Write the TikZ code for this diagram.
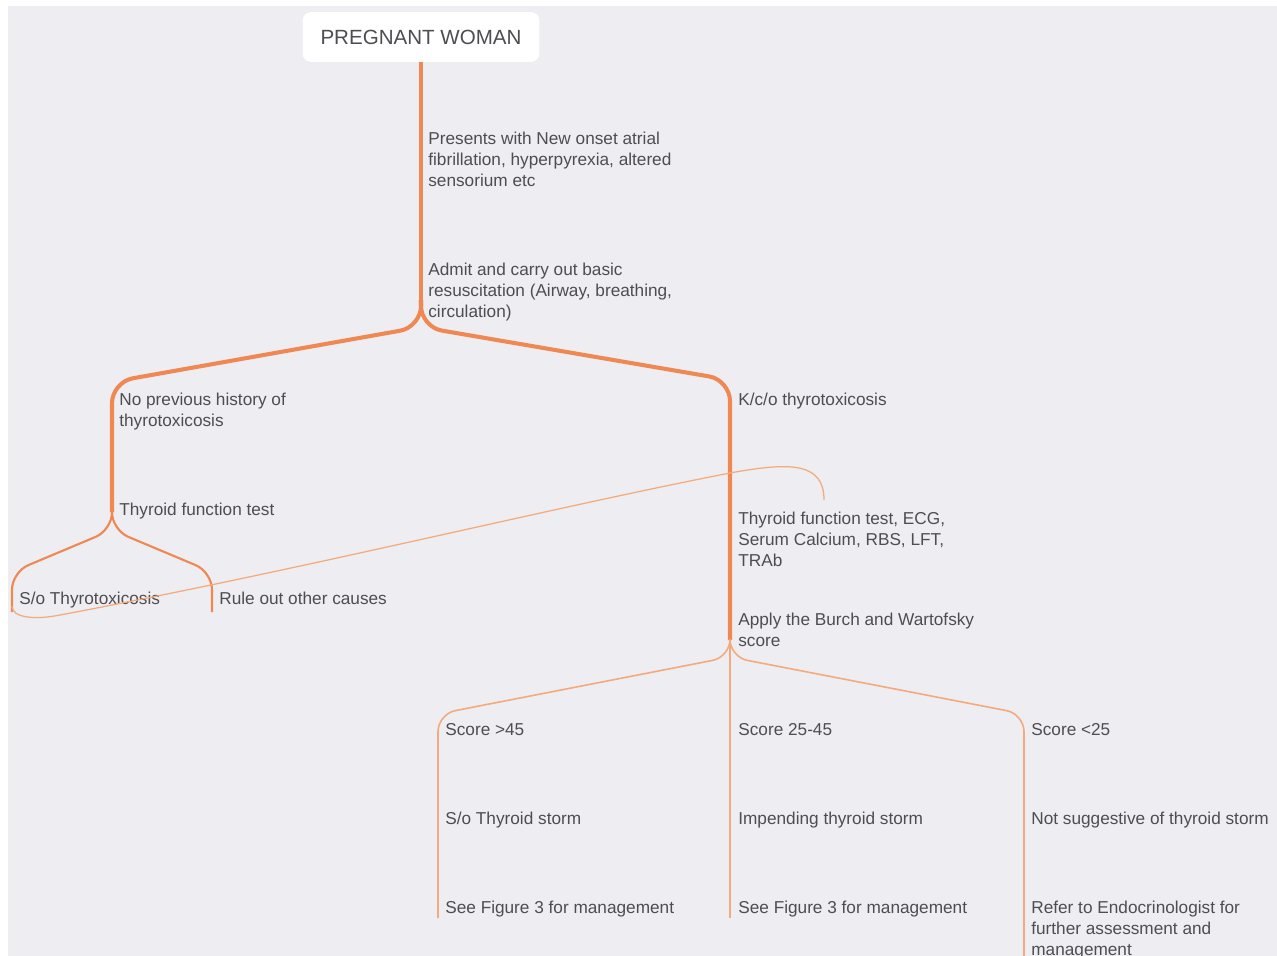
\documentclass[tikz,border=0pt]{standalone}
\usepackage{fontspec}
\setmainfont{Liberation Sans}
\usepackage{xcolor}
\definecolor{bggray}{RGB}{237,237,242}
\definecolor{txtgray}{RGB}{78,78,82}
\definecolor{mapline}{RGB}{239,136,82}
\definecolor{mapthin}{RGB}{244,170,122}

\tikzset{
  lbl/.style={anchor=north west, inner sep=0pt, align=left, text=txtgray,
    font=\fontsize{9.8}{11.9}\selectfont},
  rootbox/.style={fill=white, rounded corners=5pt, minimum width=4.74cm,
    minimum height=1cm, text=txtgray, font=\fontsize{11.7}{14}\selectfont},
  trunk/.style={mapline, line width=2.3pt, rounded corners=12pt},
  twig/.style={mapline, line width=1.2pt, rounded corners=10pt},
  thin/.style={mapthin, line width=0.9pt, rounded corners=10pt},
  relline/.style={mapthin, line width=0.7pt}
}

\begin{document}
\begin{tikzpicture}[x=0.02cm,y=-0.02cm]
                 \useasboundingbox (0,0) rectangle (1277,956);
                 \fill[white] (0,0) rectangle (1277,956);
                 \fill[bggray] (8,6) rectangle (1277,956);

                 % Root
                 \node[rootbox] (root) at (421,37) {PREGNANT WOMAN};
                 \node[lbl] (pres) at (428,132) {Presents with New onset atrial\\fibrillation, hyperpyrexia, altered\\sensorium etc};
                 \node[lbl] (admit) at (428,263) {Admit and carry out basic\\resuscitation (Airway, breathing,\\circulation)};

                 \coordinate (fk) at (421,300);
                 \coordinate (lfork) at (112,512);
                 \coordinate (rfork) at (730,640);
                 \draw[trunk] (root.south) -- (fk);
                 \draw[trunk] (fk) -- (421,327) -- (112,382) -- (lfork);
                 \draw[trunk] (fk) -- (421,327) -- (730,380) -- (rfork);

                 % Left side
                 \node[lbl] (noprev) at (119,393) {No previous history of\\thyrotoxicosis};
                 \node[lbl] (tft1) at (119,503) {Thyroid function test};
                 \node[lbl] (sotox) at (19,592) {S/o Thyrotoxicosis};
                 \node[lbl] (ruleout) at (219,592) {Rule out other causes};

                 \coordinate (soend) at (12,612);
                 \coordinate (roend) at (212,612);
                 \draw[twig] (lfork) -- (112,530) -- (12,572) -- (soend);
                 \draw[twig] (lfork) -- (112,530) -- (212,572) -- (roend);

                 % Right side
                 \node[lbl] (kco) at (738,393) {K/c/o thyrotoxicosis};
                 \node[lbl] (tft2) at (738,512) {Thyroid function test, ECG,\\Serum Calcium, RBS, LFT,\\TRAb};
                 \node[lbl] (apply) at (738,613) {Apply the Burch and Wartofsky\\score};

                 \node[lbl] (shigh) at (445,723) {Score >45};
                 \node[lbl] (smid) at (738,723) {Score 25-45};
                 \node[lbl] (slow) at (1031,723) {Score <25};
                 \node[lbl] (storm) at (445,812) {S/o Thyroid storm};
                 \node[lbl] (impend) at (738,812) {Impending thyroid storm};
                 \node[lbl] (notsug) at (1031,812) {Not suggestive of thyroid storm};
                 \node[lbl] (figa) at (445,901) {See Figure 3 for management};
                 \node[lbl] (figb) at (738,901) {See Figure 3 for management};
                 \node[lbl] (refer) at (1031,901) {Refer to Endocrinologist for\\further assessment and\\management};

                 \coordinate (hend) at (438,918);
                 \coordinate (mend) at (730,918);
                 \coordinate (lend) at (1024,962);
                 \draw[thin] (rfork) -- (730,657) -- (438,714) -- (hend);
                 \draw[thin] (rfork) -- (mend);
                 \draw[thin] (rfork) -- (730,657) -- (1024,714) -- (lend);

                 % Link between the two test nodes
                 \coordinate (relA) at (12,606);
                 \coordinate (relB) at (824,500);
                 \draw[relline] (relA) .. controls (12,618) and (35,620) .. (60,615)
                   .. controls (300,570) and (550,508) .. (730,473)
                   .. controls (790,462) and (824,462) .. (relB);
                \end{tikzpicture}
\end{document}
